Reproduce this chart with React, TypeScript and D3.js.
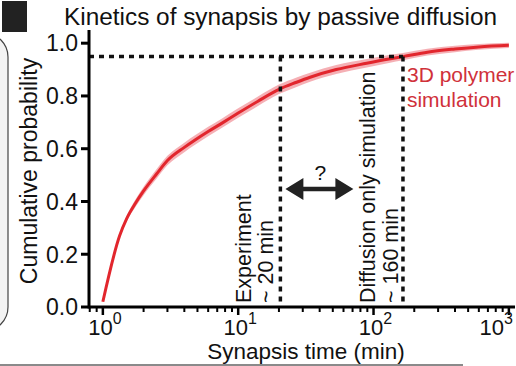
import React from "react";
import * as d3 from "d3";

const times = [1, 1.33, 1.5, 1.75, 2.0, 2.5, 3.0, 4.0, 4.8, 6.0, 7.6, 10, 14, 20, 27, 34, 53, 89, 130, 165, 250, 400, 600, 1000];
const probs = [0.02, 0.27, 0.335, 0.395, 0.44, 0.505, 0.555, 0.605, 0.633, 0.665, 0.697, 0.735, 0.78, 0.825, 0.852, 0.871, 0.9, 0.924, 0.94, 0.949, 0.966, 0.978, 0.986, 0.992];
const bandHalf = [0.003, 0.006, 0.01, 0.014, 0.016, 0.018, 0.018, 0.018, 0.018, 0.018, 0.018, 0.018, 0.018, 0.018, 0.018, 0.017, 0.017, 0.016, 0.015, 0.014, 0.013, 0.012, 0.011, 0.01];

const yTicks = [0, 0.2, 0.4, 0.6, 0.8, 1.0];
const xMajor = [1, 10, 100, 1000];
const xMajorExp = ["0", "1", "2", "3"];
const xMinor = [0.8, 0.9, 2, 3, 4, 5, 6, 7, 8, 9, 20, 30, 40, 50, 60, 70, 80, 90, 200, 300, 400, 500, 600, 700, 800, 900];

const threshold = 0.95;
const expTime = 20.5;
const simTime = 165;

const title = "Kinetics of synapsis by passive diffusion";
const yLabel = "Cumulative probability";
const xLabel = "Synapsis time (min)";

const FONT = "'Liberation Sans', Arial, sans-serif";
const RED = "#e2262d";
const PINK = "#f39ca2";
const TXTRED = "#d0313a";

export default function App() {
  const x = d3.scaleLog().domain([0.79, 1110]).range([89, 515]);
  const y = d3.scaleLinear().domain([0, 1.05]).range([307, 30]);

  const pts = times.map((t, i) => ({ t, p: probs[i], h: bandHalf[i] }));
  const line = d3
    .line<any>()
    .x((d) => x(d.t))
    .y((d) => y(d.p))
    .curve(d3.curveMonotoneX);
  const area = d3
    .area<any>()
    .x((d) => x(d.t))
    .y0((d) => y(d.p - d.h))
    .y1((d) => y(d.p + d.h))
    .curve(d3.curveMonotoneX);

  const x0 = x.range()[0];
  const x1 = x.range()[1];
  const yBase = y(0);
  const yThr = y(threshold);
  const xe = x(expTime);
  const xs = x(simTime);

  // arrow
  const ay = 189;
  const aL = xe + 5;
  const aR = xe + 73;
  const headL = 18;
  const hh = 11;
  const sh = 2.2;
  const arrowPath = `M${aL},${ay} L${aL + headL},${ay - hh} L${aL + headL},${ay - sh} L${aR - headL},${ay - sh} L${aR - headL},${ay - hh} L${aR},${ay} L${aR - headL},${ay + hh} L${aR - headL},${ay + sh} L${aL + headL},${ay + sh} L${aL + headL},${ay + hh} Z`;

  return (
    <svg
      width={516}
      height={366}
      style={{ position: "absolute", left: 0, top: 0, background: "#fff" }}
      fontFamily={FONT}
    >
      {/* decorations */}
      <rect x={-40} y={33} width={48} height={298} rx={24} fill="#f3f3f3" stroke="#444" strokeWidth={1.2} />
      <rect x={2} y={1} width={25} height={31} fill="#222" />
      <line x1={0} x2={463} y1={365} y2={365} stroke="#8a8a8a" strokeWidth={2} />

      {/* title */}
      <text x={64} y={25} fontSize={23} textLength={433} lengthAdjust="spacingAndGlyphs" fill="#111">
        {title}
      </text>

      {/* band and line */}
      <path d={area(pts) || ""} fill={PINK} opacity={0.8} />
      <path d={line(pts) || ""} fill="none" stroke={RED} strokeWidth={3} />

      {/* dashed guides */}
      <line x1={x0} x2={xs} y1={yThr} y2={yThr} stroke="#111" strokeWidth={3.5} strokeDasharray="5 5" />
      <line x1={xe} x2={xe} y1={yThr} y2={yBase} stroke="#111" strokeWidth={3.5} strokeDasharray="5 5" />
      <line x1={xs} x2={xs} y1={yThr} y2={yBase} stroke="#111" strokeWidth={3.5} strokeDasharray="5 5" />

      {/* axes */}
      <line x1={x0} x2={x0} y1={30} y2={yBase + 1.5} stroke="#000" strokeWidth={3} />
      <line x1={x0} x2={x1} y1={yBase} y2={yBase} stroke="#000" strokeWidth={3} />
      {yTicks.map((v) => (
        <g key={"y" + v}>
          <line x1={x0 - 8} x2={x0} y1={y(v)} y2={y(v)} stroke="#000" strokeWidth={3} />
          <text x={78} y={y(v)} dy="0.36em" textAnchor="end" fontSize={23} fill="#111">
            {v.toFixed(1)}
          </text>
        </g>
      ))}
      {xMajor.map((v, i) => {
        const last = i === xMajor.length - 1;
        return (
          <g key={"xm" + v}>
            <line x1={x(v)} x2={x(v)} y1={yBase} y2={yBase + 8} stroke="#000" strokeWidth={2.5} />
            <text
              x={last ? 513 : x(v) + 2}
              y={335}
              textAnchor={last ? "end" : "middle"}
              fontSize={22}
              fill="#111"
            >
              10
              <tspan dy={-11} fontSize={16}>
                {xMajorExp[i]}
              </tspan>
            </text>
          </g>
        );
      })}
      {xMinor.map((v) => (
        <line key={"xn" + v} x1={x(v)} x2={x(v)} y1={yBase} y2={yBase + 5} stroke="#000" strokeWidth={2} />
      ))}

      {/* axis labels */}
      <text transform={`translate(37,171) rotate(-90)`} textAnchor="middle" fontSize={23} fill="#111">
        {yLabel}
      </text>
      <text x={306} y={359} textAnchor="middle" fontSize={22.5} fill="#111">
        {xLabel}
      </text>

      {/* annotations */}
      <text transform={`translate(${xe - 29},303) rotate(-90)`} fontSize={21.5} fill="#111">
        Experiment
      </text>
      <text transform={`translate(${xe - 7},303) rotate(-90)`} fontSize={21.5} fill="#111">
        ~ 20 min
      </text>
      <text transform={`translate(${xs - 28},303) rotate(-90)`} fontSize={21.5} fill="#111">
        Diffusion only simulation
      </text>
      <text transform={`translate(${xs - 5},303) rotate(-90)`} fontSize={21.5} fill="#111">
        ~ 160 min
      </text>
      <text x={xe + 40} y={180} textAnchor="middle" fontSize={21} fill="#111">
        ?
      </text>
      <path d={arrowPath} fill="#222" />

      <text x={xs + 4} y={82} fontSize={21} fill={TXTRED}>
        3D polymer
      </text>
      <text x={xs + 4} y={107} fontSize={21} fill={TXTRED}>
        simulation
      </text>
    </svg>
  );
}
